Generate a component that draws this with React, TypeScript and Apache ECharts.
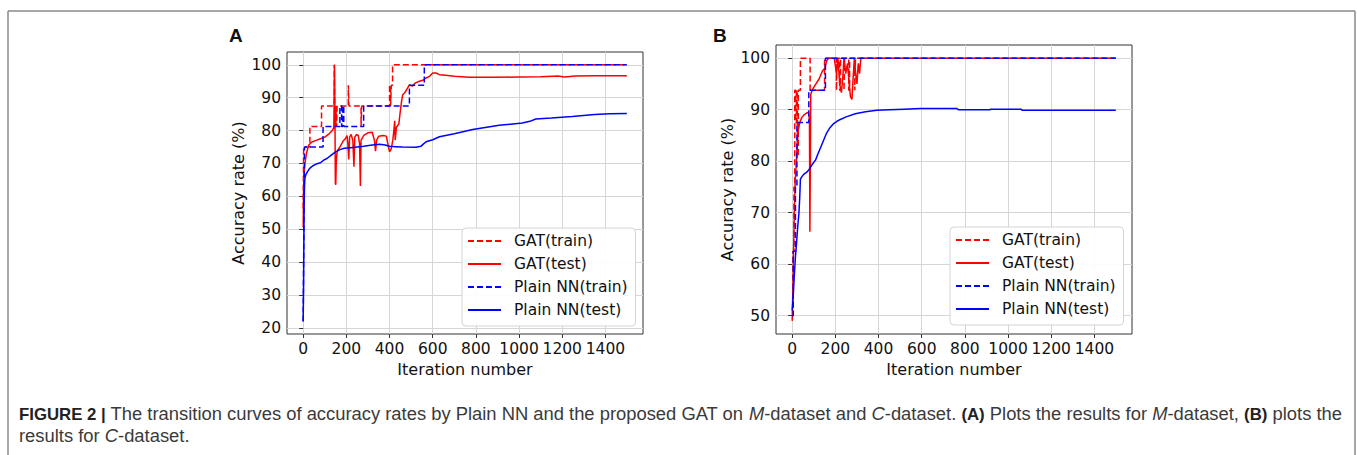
import React, { useEffect, useRef } from "react";
import * as echarts from "echarts";

const seriesNames = ["GAT(train)", "GAT(test)", "Plain NN(train)", "Plain NN(test)"];
const xTicks = [0, 200, 400, 600, 800, 1000, 1200, 1400];
const yTicksA = [20, 30, 40, 50, 60, 70, 80, 90, 100];
const yTicksB = [50, 60, 70, 80, 90, 100];

// Panel A (M-dataset): [iteration, accuracy %]
const aGatTrain = [
  [0, 56.25], [2, 75], [31, 81.25], [85, 87.5], [144, 100], [147, 81.25], [149, 87.5], [151, 81.25],
  [153, 87.5], [155, 81.25], [157, 87.5], [209, 93.75], [212, 87.5], [268, 81.25], [271, 87.5],
  [400, 93.75], [405, 87.5], [408, 93.75], [414, 100], [1499, 100],
];
const aGatTest = [
  [0, 50.6], [2, 62], [4, 67], [8, 70], [15, 73], [25, 75.5], [40, 76.5], [60, 77], [80, 77.5], [100, 78],
  [120, 79], [135, 80], [142, 81], [145, 100], [147, 85], [149, 64], [151, 63.5], [153, 70], [156, 73],
  [160, 74], [170, 75], [185, 76.8], [195, 77.5], [203, 78.5], [207, 76], [211, 71.2], [215, 78],
  [222, 78.8], [230, 77], [235, 69], [239, 78], [247, 78.8], [255, 78.5], [261, 76], [265, 63.1],
  [268, 77], [280, 78.5], [300, 79.3], [320, 79.5], [330, 77], [335, 73.7], [340, 77], [350, 78.3],
  [370, 78.5], [385, 78.3], [395, 75], [400, 73.5], [408, 74.5], [415, 77], [420, 80], [424, 83],
  [426, 77.1], [432, 81], [443, 82], [450, 86], [456, 89], [461, 90.9], [470, 91.5], [480, 92.5],
  [492, 93.9], [505, 93.5], [520, 94.5], [538, 95], [555, 95.3], [569, 96], [585, 96.5], [600, 97.5],
  [615, 97.5], [631, 97], [660, 96.8], [700, 96.5], [770, 96.2], [893, 96.2], [1000, 96.3],
  [1100, 96.4], [1180, 96.6], [1210, 96.3], [1260, 96.6], [1350, 96.7], [1499, 96.7],
];
const aNnTrain = [
  [0, 21.9], [3, 50], [6, 75], [92, 81.25], [170, 87.5], [178, 81.25], [183, 87.5], [188, 81.25],
  [280, 87.5], [492, 93.75], [561, 100], [1499, 100],
];
const aNnTest = [
  [0, 22], [2, 35], [4, 55], [6, 63], [8, 65.5], [12, 66.5], [20, 67.5], [30, 68.5], [45, 69.3],
  [60, 69.8], [80, 70.2], [95, 71], [110, 71.5], [130, 72.5], [150, 73.5], [170, 74.2], [190, 74.6],
  [220, 74.8], [250, 75], [280, 75.2], [320, 75.6], [354, 75.8], [380, 75.6], [400, 75.2], [430, 75.1],
  [460, 75], [523, 74.9], [545, 75.2], [555, 75.8], [569, 76.6], [600, 77.2], [631, 78.1], [700, 79],
  [785, 80.3], [850, 81], [908, 81.6], [1015, 82.3], [1050, 82.8], [1077, 83.5], [1150, 83.8],
  [1246, 84.3], [1350, 84.9], [1420, 85.1], [1499, 85.2],
];

// Panel B (C-dataset)
const bGatTrain = [
  [0, 50], [4, 62.5], [8, 75], [12, 93.75], [16, 87.5], [20, 93.75], [24, 81.25], [28, 93.75],
  [38, 100], [83, 93.75], [150, 100], [205, 93.75], [208, 100], [220, 93.75], [224, 100],
  [240, 93.75], [243, 100], [262, 93.75], [266, 100], [290, 93.75], [293, 100], [1499, 100],
];
const bGatTest = [
  [0, 49], [3, 55], [6, 62], [10, 70], [14, 76], [18, 79], [22, 82], [28, 86], [35, 87.5], [45, 88.5],
  [55, 89], [65, 89.3], [75, 89.5], [80, 88], [82, 66.3], [84, 80], [86, 93], [95, 94], [110, 95],
  [125, 96], [140, 97.5], [150, 98], [160, 99.5], [170, 100], [195, 100], [205, 97], [212, 100],
  [220, 95], [228, 93.3], [234, 96], [240, 100], [248, 97], [256, 99], [264, 95], [270, 92.5],
  [277, 92], [282, 96], [288, 100], [294, 97], [300, 95], [306, 99], [312, 97], [318, 100], [1499, 100],
];
const bNnTrain = [
  [0, 50], [5, 62.5], [15, 75], [22, 87.5], [77, 93.75], [154, 100], [1499, 100],
];
const bNnTest = [
  [0, 51], [5, 54], [10, 58], [15, 61.4], [20, 64], [25, 67], [31, 69.8], [35, 73], [38, 76.5],
  [45, 77], [55, 77.5], [69, 77.9], [80, 78.5], [95, 79.5], [108, 80.2], [120, 81.5], [135, 83],
  [146, 84.1], [160, 85.5], [175, 86.5], [192, 87.3], [210, 87.8], [223, 88.1], [250, 88.6],
  [292, 89.2], [340, 89.6], [392, 89.9], [450, 90], [520, 90.1], [592, 90.2], [700, 90.2],
  [763, 90.2], [770, 90], [917, 90], [920, 90.1], [1060, 90.1], [1065, 89.9], [1499, 89.9],
];

const FONT = "DejaVu Sans";
const RED = "#ff0000";
const BLUE = "#0000ff";
const DASH = [6, 3];

const mkX = (gi: number) => ({
  type: "value",
  gridIndex: gi,
  min: -75,
  max: 1574,
  name: "Iteration number",
  nameLocation: "middle",
  nameGap: 27,
  nameTextStyle: { fontFamily: FONT, fontSize: 16, color: "#111" },
  axisLine: { show: false },
  axisTick: { show: true, inside: false, length: 4, lineStyle: { color: "#333", width: 1 }, customValues: xTicks },
  axisLabel: {
    customValues: xTicks,
    margin: 7,
    fontFamily: FONT,
    fontSize: 15.5,
    color: "#111",
    formatter: (v: number) => (Math.abs(v % 200) < 1e-6 ? String(v) : ""),
  },
  splitLine: { show: true, lineStyle: { color: "#d6d6d6", width: 1 } },
});

const mkY = (gi: number, min: number, max: number, ticks: number[]) => ({
  type: "value",
  gridIndex: gi,
  min,
  max,
  splitNumber: ticks.length - 1,
  name: "Accuracy rate (%)",
  nameLocation: "middle",
  nameGap: 41,
  nameTextStyle: { fontFamily: FONT, fontSize: 16, color: "#111" },
  axisLine: { show: false },
  axisTick: { show: true, inside: false, length: 4, lineStyle: { color: "#333", width: 1 }, customValues: ticks },
  axisLabel: {
    customValues: ticks,
    margin: 6,
    fontFamily: FONT,
    fontSize: 15.5,
    color: "#111",
    formatter: (v: number) => (Math.abs(v % 10) < 1e-6 ? String(v) : ""),
  },
  splitLine: { show: true, lineStyle: { color: "#d6d6d6", width: 1 } },
});

const mkSeries = (gi: number, data: number[][][]) =>
  data.map((d, k) => ({
    type: "line",
    name: seriesNames[k],
    xAxisIndex: gi,
    yAxisIndex: gi,
    data: d,
    symbol: "none",
    showSymbol: false,
    step: k % 2 === 0 ? "end" : false,
    lineStyle: { color: k < 2 ? RED : BLUE, width: 1.5, type: k % 2 === 0 ? DASH : "solid" },
    itemStyle: { color: k < 2 ? RED : BLUE },
    emphasis: { disabled: true },
  }));

const mkLegend = (left: number, top: number) => ({
  orient: "vertical",
  left,
  top,
  itemWidth: 33,
  itemHeight: 14,
  itemGap: 7,
  padding: [5, 8, 8, 5],
  backgroundColor: "rgba(255,255,255,0.92)",
  borderColor: "#d4d4d4",
  borderWidth: 1,
  borderRadius: 4,
  selectedMode: false,
  itemStyle: { opacity: 0, color: "rgba(0,0,0,0)", borderWidth: 0 },
  textStyle: { fontFamily: FONT, fontSize: 15.5, color: "#111", padding: [0, 0, 0, 8] },
  data: seriesNames,
});

const cap = { fontFamily: "Liberation Sans", fontSize: 17.5, fill: "#3a3a3a" };
const capRich = {
  b: { ...cap, fontSize: 16, fontWeight: "bold", fill: "#222" },
  i: { ...cap, fontStyle: "italic" },
  n: { ...cap },
};

export default function App() {
  const ref = useRef<HTMLDivElement>(null);
  useEffect(() => {
    if (!ref.current) return;
    const chart = echarts.init(ref.current, undefined, { renderer: "svg" });
    chart.setOption({
      animation: false,
      backgroundColor: "#fff",
      grid: [
        { left: 287, top: 52, width: 356, height: 282, show: true, borderColor: "#333", borderWidth: 1, backgroundColor: "#fff" },
        { left: 776, top: 45, width: 356, height: 289, show: true, borderColor: "#333", borderWidth: 1, backgroundColor: "#fff" },
      ],
      xAxis: [mkX(0), mkX(1)],
      yAxis: [mkY(0, 18.1, 103.9, yTicksA), mkY(1, 46.45, 102.55, yTicksB)],
      legend: [mkLegend(462, 228), mkLegend(950, 227)],
      series: [
        ...mkSeries(0, [aGatTrain, aGatTest, aNnTrain, aNnTest]),
        ...mkSeries(1, [bGatTrain, bGatTest, bNnTrain, bNnTest]),
      ],
      graphic: [
        { type: "line", shape: { x1: 8, y1: 11, x2: 1355, y2: 11 }, style: { stroke: "#8a8a8a", lineWidth: 1.5 } },
        { type: "line", shape: { x1: 8, y1: 11, x2: 8, y2: 455 }, style: { stroke: "#8a8a8a", lineWidth: 1.5 } },
        { type: "line", shape: { x1: 1355, y1: 11, x2: 1355, y2: 455 }, style: { stroke: "#8a8a8a", lineWidth: 1.5 } },
        { type: "text", left: 229, top: 26, style: { text: "A", fontFamily: "Liberation Sans", fontWeight: "bold", fontSize: 19, fill: "#111" } },
        { type: "text", left: 713, top: 26, style: { text: "B", fontFamily: "Liberation Sans", fontWeight: "bold", fontSize: 19, fill: "#111" } },
        {
          type: "text",
          x: 19,
          y: 405,
          scaleX: 1.05,
          style: {
            text:
              "{b|FIGURE 2 |}{n| The transition curves of accuracy rates by Plain NN and the proposed GAT on }{i|M}{n|-dataset and }{i|C}{n|-dataset. }{b|(A)}{n| Plots the results for }{i|M}{n|-dataset, }{b|(B)}{n| plots the}",
            rich: capRich,
            ...cap,
          },
        },
        {
          type: "text",
          x: 19,
          y: 427,
          scaleX: 1.05,
          style: { text: "{n|results for }{i|C}{n|-dataset.}", rich: capRich, ...cap },
        },
      ],
    });
    return () => chart.dispose();
  }, []);
  return <div ref={ref} style={{ position: "fixed", left: 0, top: 0, width: 1357, height: 455 }} />;
}
